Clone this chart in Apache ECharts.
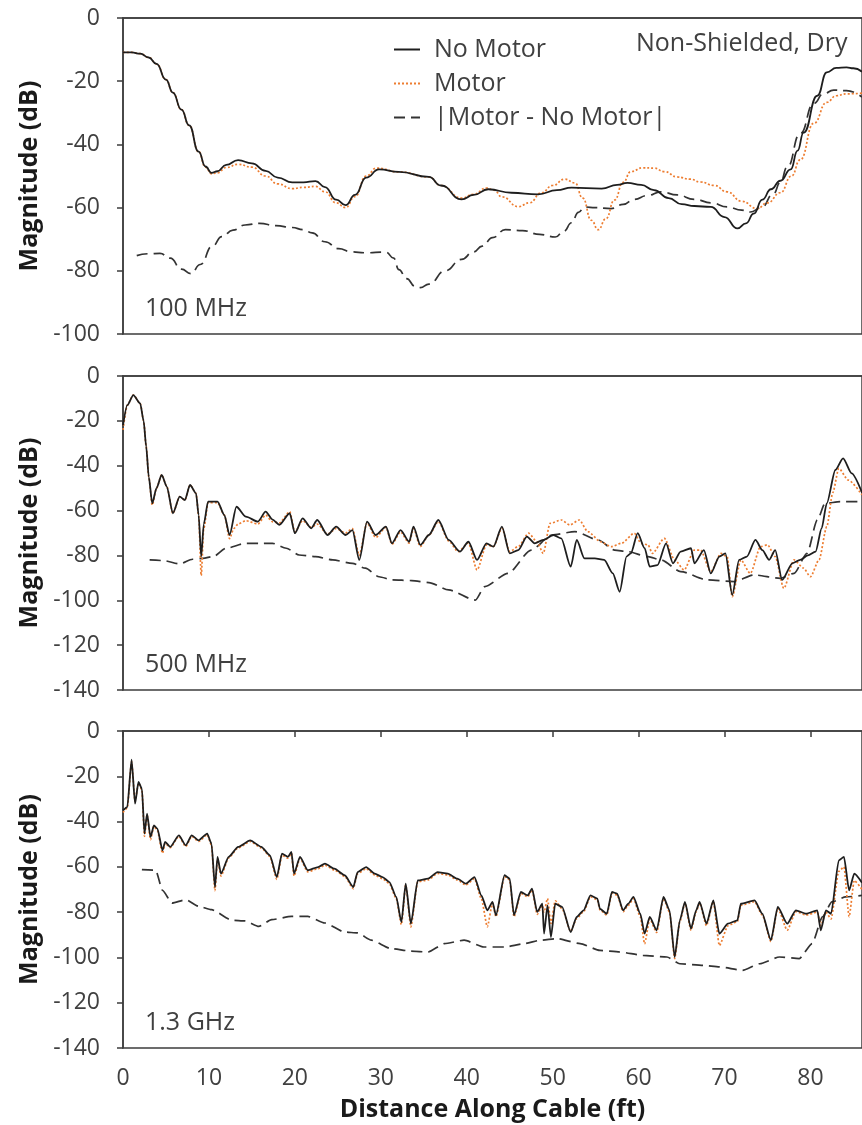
<!DOCTYPE html>
<html>
<head>
<meta charset="utf-8">
<title>Magnitude along cable</title>
<script src="https://cdn.jsdelivr.net/npm/echarts@6/dist/echarts.min.js"></script>
<style>
	html, body { margin: 0; padding: 0; background: #fff; }
	#chart { width: 862px; height: 1125px; }
</style>
</head>
<body>
<div id="chart"></div>
<script>
// x tick labels (ft) and y ticks
var xTicks = [0, 10, 20, 30, 40, 50, 60, 70, 80];
var panelLabels = ['100 MHz', '500 MHz', '1.3 GHz'];
var seriesNames = ['No Motor', 'Motor', '|Motor - No Motor|'];

// 100 MHz  [distance ft, dB]
var p1NoMotor = [[0,-10.9],[1,-10.9],[2,-11.3],[3,-12.5],[3.9,-14.5],[5,-19.5],[5.8,-23.6],[6.8,-29],[7.7,-34],[8.8,-42.3],[9.6,-47],[10.3,-49],[11,-48.5],[12,-46.5],[13.4,-45],[15,-46],[16.6,-48.4],[18,-50.5],[19.7,-52],[21,-52],[22.4,-51.6],[23.5,-53.5],[24.8,-57.5],[25.9,-59.2],[27,-56],[28.3,-50.5],[29.8,-47.9],[32.1,-48.7],[35.6,-50.3],[37,-53],[39.4,-57.4],[40.8,-56],[42.5,-54.2],[45.2,-55.3],[48.3,-55.8],[50.5,-54.5],[52.2,-53.7],[55.7,-54],[57.5,-52.8],[58.7,-52.2],[60.3,-52.8],[61.8,-54.5],[63.5,-57],[65,-58.9],[66.5,-59.5],[68.4,-59.8],[70,-63],[71.5,-66.6],[72.5,-65],[73.4,-61.9],[74.4,-57.5],[75.4,-54.2],[76.5,-51.5],[77.7,-47.9],[78.5,-42],[79.2,-36.3],[80.8,-24.6],[81.9,-17.2],[83,-15.8],[84.2,-15.6],[85,-15.9],[86,-17]];
var p1Motor = [[0,-10.9],[1,-10.9],[2,-11.3],[3,-12.5],[3.9,-14.5],[5,-19.5],[5.8,-23.6],[6.8,-29],[7.7,-34],[8.8,-42.3],[9.6,-47.2],[10.3,-49.3],[11,-49],[12,-47.3],[13.4,-46.3],[15,-47.2],[16.6,-50],[18,-52.5],[19.7,-54],[21,-53.6],[22.4,-53.3],[23.5,-55],[24.8,-58.5],[25.9,-60],[27,-56.5],[28.3,-50],[29.5,-47.5],[32.1,-48.7],[35.6,-50.3],[37,-53],[39.4,-57],[40.8,-55.8],[42.3,-53.8],[43.2,-54.5],[44.1,-56.6],[46,-59.7],[47.3,-58.5],[48.7,-55.3],[50,-53],[51.4,-51],[52.6,-52.2],[53.5,-57],[54.5,-64],[55.3,-67],[56.2,-63.5],[57.2,-57.6],[58.2,-52],[59.1,-48.6],[60.5,-47.4],[61.8,-47.5],[63,-48.6],[64.5,-50.3],[66,-51],[67.2,-51.9],[68.8,-53],[70.3,-55],[72,-58],[73.8,-60.3],[75,-58.5],[76.5,-55.3],[77.8,-50],[78.8,-44.9],[80.4,-33.3],[81.9,-26.7],[83,-24.6],[84.2,-24],[86,-23.8]];
var p1Diff = [[1.6,-75.2],[3,-74.6],[4.3,-74.5],[5.5,-76],[6.8,-79.5],[7.9,-80.9],[9,-78],[10.4,-72.2],[11.5,-69.2],[12.8,-67.1],[14.2,-65.5],[15.9,-65],[17.8,-65.7],[19.7,-66.3],[21,-67],[22,-68],[23.5,-70.8],[25.1,-73],[26.6,-74],[28.2,-74.3],[30.6,-74.1],[31.5,-76],[32.1,-79.6],[33,-82.5],[34,-84.9],[34.6,-85.3],[35.6,-84.2],[37.5,-80],[39.4,-76.4],[40.8,-74],[41.8,-72.2],[43,-69.5],[44.5,-67],[46.5,-67.3],[48.5,-68.5],[50.3,-69.3],[51.3,-67.5],[52.2,-64.8],[53,-61.5],[53.7,-59.8],[55,-60],[56.8,-60.3],[58.2,-59],[59.5,-57.4],[61,-56.2],[62.6,-55],[64.5,-56],[66.5,-57.4],[68.5,-58.5],[70.3,-59.8],[72,-60.8],[73,-61.4],[74.3,-60],[75.7,-55.6],[76.5,-52],[77.3,-47.2],[78.8,-36.6],[80.4,-27],[81.5,-24],[82.7,-22.8],[84.2,-23],[86,-25]];

// 500 MHz
var p2NoMotor = [[0,-22],[0.5,-13],[1.2,-8.5],[2.0,-12.2],[2.4,-20],[2.7,-31.5],[3.0,-45],[3.4,-56.8],[3.9,-50],[4.5,-44.1],[5.1,-49.3],[5.8,-61.2],[6.6,-53.8],[7.2,-55.3],[7.8,-48.6],[8.5,-52.3],[8.8,-62],[9.1,-80.5],[9.4,-66],[9.9,-56],[11.0,-56],[11.8,-62],[12.4,-70.9],[13.2,-58.3],[14.3,-62.7],[15.7,-64.9],[16.6,-60.5],[17.4,-64],[18.2,-66.4],[19.4,-61.2],[20.0,-70.1],[20.9,-63.5],[21.9,-67.9],[22.6,-64.2],[23.8,-70.9],[24.8,-67.2],[25.9,-70.9],[26.7,-68.7],[27.5,-82],[28.4,-64.9],[29.4,-70.9],[30.6,-67.2],[31.3,-74.6],[32.3,-68.7],[33.3,-73.9],[33.8,-67.2],[34.6,-75.3],[35.6,-70.9],[36.7,-64.2],[37.9,-73.1],[39.2,-78.3],[40.2,-73.9],[41.2,-82],[42.3,-74.6],[43.1,-76.1],[44.1,-67.2],[45.0,-79.1],[46.0,-77.6],[47.0,-71.6],[47.9,-74.6],[48.9,-73.1],[50.1,-70.9],[51.0,-72.4],[52.1,-85],[52.8,-73.1],[53.7,-81.3],[54.9,-81.3],[56.0,-82],[57.0,-88],[57.8,-96.2],[58.6,-80.5],[59.1,-79.1],[59.9,-70.1],[60.7,-76.8],[61.3,-85],[62.2,-84.3],[63.2,-74.6],[64.0,-83.5],[64.9,-78.3],[66.1,-76.8],[66.5,-83.5],[67.6,-77.6],[68.4,-88],[69.4,-80.5],[70.1,-79.1],[70.9,-97.6],[71.7,-82],[72.6,-80.5],[73.6,-73.1],[74.4,-77.6],[75.2,-82],[75.9,-77.6],[76.7,-90.9],[77.9,-83.5],[78.8,-82],[79.7,-80],[80.6,-78.3],[81.3,-68],[81.9,-56.8],[82.9,-41.9],[83.8,-36.7],[84.8,-43.4],[86,-52]];
var p2Motor = [[0,-24],[0.5,-13],[1.2,-8.5],[2.0,-12.2],[2.4,-20],[2.7,-31.5],[3.0,-45],[3.4,-57.5],[3.9,-50],[4.5,-44.1],[5.1,-49.3],[5.8,-61.2],[6.6,-53.8],[7.2,-55.3],[7.8,-48.6],[8.5,-52.3],[8.8,-62],[9.1,-89],[9.4,-68],[9.9,-56.5],[11.0,-56.5],[11.8,-62],[12.4,-72.5],[12.9,-68],[13.4,-66],[14.3,-64.5],[15.7,-66],[16.6,-62],[17.4,-65],[18.2,-65.5],[19.4,-60.5],[20.0,-69.5],[20.9,-64.5],[21.9,-67.5],[22.6,-66],[23.8,-70.5],[24.8,-68],[25.9,-70],[26.7,-68],[27.5,-80],[28.4,-65.5],[29.4,-72],[30.6,-67.5],[31.3,-75],[32.3,-69.5],[33.3,-74.5],[33.8,-68],[34.6,-76],[35.6,-70.9],[36.7,-64.9],[37.9,-73.5],[39,-78.3],[40.2,-74.5],[41.2,-86.5],[42.3,-75.3],[43.1,-76],[44.1,-67.9],[45,-78.3],[46,-76],[47.2,-70.1],[48.2,-74],[48.9,-79.1],[49.7,-65.7],[51,-64.2],[52,-66.4],[53.1,-64.2],[54.1,-69.4],[55.6,-73.9],[56.8,-76.1],[58,-74.6],[59.5,-70.1],[60.3,-74.6],[61.1,-75.3],[61.6,-79.1],[63,-72.4],[64.2,-82],[65.3,-86.5],[66.5,-77.6],[67.2,-77.6],[68.4,-87.2],[69.6,-79.1],[70.3,-80.5],[70.9,-98.4],[71.9,-82],[73,-88],[74.2,-76.1],[75,-75.3],[75.9,-80.5],[76.9,-94.7],[78.1,-82],[79.2,-85.7],[80,-89.5],[81,-82],[81.9,-67.2],[82.6,-52],[83.3,-41.2],[84.4,-46.4],[86,-53]];
var p2Diff = [[3.1,-82],[4.7,-82.3],[6.6,-83.8],[8.1,-81.7],[9.3,-81.3],[10.5,-80.5],[12,-76.8],[14.3,-74.6],[15.9,-74.6],[17.4,-74.6],[19,-76.8],[20.5,-79.8],[22.4,-80.5],[24.4,-82],[26.7,-83.5],[28.2,-85.7],[29.8,-89.5],[31.3,-90.9],[33.6,-91.2],[35.6,-92.1],[37.9,-95.4],[41,-99.9],[42.1,-93.9],[44.8,-88],[47.5,-77.6],[49.9,-70.9],[52.6,-69.4],[55.3,-73.1],[57.2,-77.6],[58.7,-78.3],[61.1,-80.5],[62.6,-82],[64.9,-87.2],[68,-90.9],[71.1,-91.7],[73.4,-88.7],[76.5,-90.2],[78.1,-88],[79.6,-79.1],[80.8,-64.2],[81.7,-56.8],[83.5,-56],[86,-56]];

// 1.3 GHz
var p3NoMotor = [[0,-35],[0.5,-33.6],[1.0,-12.7],[1.4,-32.1],[1.8,-22.5],[2.2,-25.5],[2.5,-45.3],[2.8,-36.5],[3.2,-46.8],[3.6,-41.7],[4.0,-43.1],[4.6,-52.7],[4.9,-49],[5.5,-51.2],[6.5,-46.1],[7.3,-50.5],[8.0,-46.1],[8.8,-48.3],[9.8,-45.3],[10.3,-49.8],[10.7,-68.9],[11.0,-55.6],[11.4,-63],[12.3,-55.6],[13.4,-51.2],[14.8,-48.3],[16.1,-51.2],[17.1,-54.9],[17.9,-64.5],[18.5,-54.2],[19.2,-55.6],[19.6,-53.4],[19.9,-63],[20.6,-55.6],[21.5,-61.5],[22.7,-60.1],[23.5,-58.6],[24.6,-60.8],[25.8,-63.7],[26.8,-68.9],[27.3,-62.3],[28.3,-60.1],[29.3,-63],[30.2,-64.5],[31.0,-66.7],[31.8,-73.3],[32.4,-84.4],[32.9,-67.4],[33.5,-85.1],[34.3,-66],[35.5,-65.2],[36.6,-62.3],[37.8,-63],[38.9,-65.2],[39.9,-67.4],[40.9,-64.5],[41.7,-72.6],[42.4,-79.2],[43.0,-75.5],[43.4,-81.4],[44.4,-63.7],[45.0,-65.2],[45.5,-81.4],[46.3,-71.1],[47.1,-72.6],[47.6,-69.6],[48.2,-79.9],[48.8,-76.3],[49.0,-89.5],[49.4,-77],[49.8,-91],[50.3,-76.3],[51.1,-77.7],[52.1,-88.8],[52.8,-82.1],[53.6,-79.2],[54.4,-72.6],[55.2,-74],[55.5,-78.5],[56.3,-80.7],[56.9,-71.1],[57.5,-71.8],[58.2,-79.2],[58.8,-76.3],[59.4,-73.3],[60.2,-80.7],[60.7,-89.5],[61.3,-82.1],[62.1,-88],[62.9,-73.3],[63.6,-79.2],[64.2,-99.8],[64.8,-83.6],[65.4,-75.5],[66.1,-87.3],[66.7,-79.2],[67.1,-75.5],[67.9,-85.1],[68.7,-74.8],[69.4,-89.5],[70.4,-85.1],[71.5,-83.6],[71.9,-76.3],[73.5,-74.8],[74.4,-80.7],[75.4,-92.4],[76.2,-77.7],[77.3,-85.1],[78.3,-79.2],[79.5,-80.7],[80.8,-79.2],[81.2,-88],[81.8,-79.2],[82.4,-80.7],[83.3,-57.1],[83.9,-55.6],[84.5,-70.4],[85.1,-63],[86,-67]];
var p3Motor = [[0,-36],[0.5,-34],[1.0,-13.5],[1.4,-31],[1.8,-23],[2.2,-26],[2.5,-46.5],[2.8,-37],[3.2,-48],[3.6,-42],[4.0,-44],[4.6,-54],[4.9,-49.5],[5.5,-51.5],[6.5,-46.5],[7.3,-51],[8.0,-46.5],[8.8,-48.8],[9.8,-45.8],[10.3,-50.5],[10.7,-70.5],[11.0,-56.5],[11.4,-64],[12.3,-56],[13.4,-51.6],[14.8,-48.8],[16.1,-51.6],[17.1,-55.4],[17.9,-65.5],[18.5,-54.8],[19.2,-56.2],[19.6,-54],[19.9,-64],[20.6,-56.2],[21.5,-62.2],[22.7,-60.8],[23.5,-59.2],[24.6,-61.4],[25.8,-64.2],[26.8,-69.6],[27.3,-63],[28.3,-60.8],[29.3,-63.6],[30.2,-65.2],[31.0,-67.4],[31.8,-74],[32.4,-85.5],[32.9,-68],[33.5,-86.5],[34.3,-66.6],[35.5,-65.8],[36.6,-62.9],[37.8,-63.6],[38.9,-65.8],[39.9,-68],[40.9,-65.2],[41.7,-74],[42.4,-86.5],[43.0,-76],[43.4,-82],[44.4,-64.3],[45.0,-65.8],[45.5,-82],[46.3,-71.7],[47.1,-73.2],[47.6,-70.2],[48.2,-81],[48.8,-77],[49.0,-80],[49.4,-74],[49.8,-85],[50.3,-75],[51.1,-78.5],[52.1,-88.5],[52.8,-82.8],[53.6,-79.8],[54.4,-73.2],[55.2,-74.6],[55.5,-79],[56.3,-81.3],[56.9,-71.7],[57.5,-72.4],[58.2,-79.8],[58.8,-77],[59.4,-74],[60.2,-82],[60.7,-94],[61.3,-83],[62.1,-89],[62.9,-74],[63.6,-80],[64.2,-100.5],[64.8,-84.2],[65.4,-76],[66.1,-88],[66.7,-79.8],[67.1,-76],[67.9,-86],[68.7,-75.4],[69.4,-94.7],[70.4,-86],[71.5,-84.2],[71.9,-77],[73.5,-75.4],[74.4,-81.3],[75.4,-93],[76.2,-78.3],[77.3,-88],[78.3,-79.8],[79.5,-81.3],[80.8,-80],[81.2,-86],[81.8,-80],[82.4,-83],[83.3,-62],[83.9,-60],[84.5,-82],[85.1,-66],[86,-70]];
var p3Diff = [[2.2,-61.2],[3.8,-61.5],[4.6,-70.4],[5.7,-76],[7.3,-74.5],[8.8,-77.4],[10.3,-78.9],[12.7,-83.6],[14.2,-83.9],[15.8,-86.3],[17.3,-83.3],[19.6,-81.9],[21.5,-81.9],[23.5,-84.8],[25.8,-88.8],[27.3,-89.2],[28.9,-92.4],[31.2,-96.1],[33.5,-97.2],[35.5,-97.6],[37.4,-93.9],[39.7,-92.4],[42,-95.4],[44.4,-95.4],[46.7,-93.9],[48.6,-92.4],[50.5,-91.7],[53.2,-93.9],[55.5,-96.9],[57.8,-97.6],[60.5,-99.1],[63.3,-99.8],[64.8,-102.8],[67.5,-103.5],[69.4,-104.2],[72.1,-105.7],[74.1,-102.8],[76.4,-99.8],[78.7,-100.5],[80.2,-93.9],[81.4,-82.1],[82.5,-75.5],[84.1,-73.3],[86,-72.6]];

var FONT = '"Open Sans", "DejaVu Sans", sans-serif';
var TXT = '#404040';
var AXIS = '#3c3c3c';

var panels = [
	{ top: 18, height: 316, min: -100, data: [p1NoMotor, p1Motor, p1Diff], smooth: 0.5, labelY: 312 },
	{ top: 376, height: 314, min: -140, data: [p2NoMotor, p2Motor, p2Diff], smooth: 0.25, labelY: 668 },
	{ top: 731, height: 317, min: -140, data: [p3NoMotor, p3Motor, p3Diff], smooth: 0.2, labelY: 1026 }
];

var lineStyles = [
	{ color: '#1e1e1e', width: 1.8, type: 'solid' },
	{ color: '#ED7D31', width: 1.7, type: [2, 2] },
	{ color: '#333333', width: 1.7, type: [11, 6] }
];

var grid = [], xAxis = [], yAxis = [], series = [], graphic = [];

panels.forEach(function(p, i) {
	var last = (i === panels.length - 1);
	grid.push({
		left: 123, right: -3, top: p.top, height: p.height,
		show: true, borderColor: AXIS, borderWidth: 1.5, backgroundColor: 'transparent'
	});
	xAxis.push({
		type: 'value', gridIndex: i, min: 0, max: 86, interval: 10,
		splitLine: { show: false },
		axisLine: { show: true, lineStyle: { color: AXIS, width: 1.5 } },
		axisTick: { show: last, length: 6, lineStyle: { color: AXIS, width: 1.5 },
			customValues: xTicks },
		axisLabel: { show: last, margin: 19, fontFamily: FONT, fontSize: 23, color: TXT,
			customValues: xTicks },
		name: last ? 'Distance Along Cable (ft)' : '',
		nameLocation: 'middle', nameGap: 49,
		nameTextStyle: { fontFamily: FONT, fontSize: 25, fontWeight: 'bold', color: '#1a1a1a' }
	});
	yAxis.push({
		type: 'value', gridIndex: i, min: p.min, max: 0, interval: 20,
		splitLine: { show: false },
		axisLine: { show: true, lineStyle: { color: AXIS, width: 1.5 } },
		axisTick: { show: true, length: 6, lineStyle: { color: AXIS, width: 1.5 } },
		axisLabel: { margin: 23, fontFamily: FONT, fontSize: 23, color: TXT },
		name: 'Magnitude (dB)', nameLocation: 'middle', nameGap: 80,
		nameTextStyle: { fontFamily: FONT, fontSize: 25, fontWeight: 'bold', color: '#1a1a1a' }
	});
	p.data.forEach(function(d, k) {
		series.push({
			name: seriesNames[k], type: 'line', xAxisIndex: i, yAxisIndex: i,
			data: d, symbol: 'none', smooth: p.smooth, smoothMonotone: 'x',
			lineStyle: lineStyles[k], itemStyle: { color: lineStyles[k].color },
			z: 3 - k
		});
	});
	// 频率标签
	graphic.push({
		type: 'text', left: 145, top: p.labelY - 16,
		style: { text: panelLabels[i], font: '25px ' + FONT, fill: TXT }
	});
});

graphic.push({
	type: 'text', left: 636, top: 31,
	style: { text: 'Non-Shielded, Dry', font: '25px ' + FONT, fill: TXT }
});

var chart = echarts.init(document.getElementById('chart'));
chart.setOption({
	animation: false,
	backgroundColor: '#fff',
	grid: grid,
	xAxis: xAxis,
	yAxis: yAxis,
	legend: {
		data: seriesNames, orient: 'vertical', left: 388, top: 32,
		itemWidth: 26, itemHeight: 14, itemGap: 9,
		itemStyle: { color: 'transparent', borderWidth: 0, opacity: 0 },
		textStyle: { fontFamily: FONT, fontSize: 25, color: TXT, padding: [0, 0, 0, 9] }
	},
	graphic: graphic,
	series: series
});
</script>
</body>
</html>
